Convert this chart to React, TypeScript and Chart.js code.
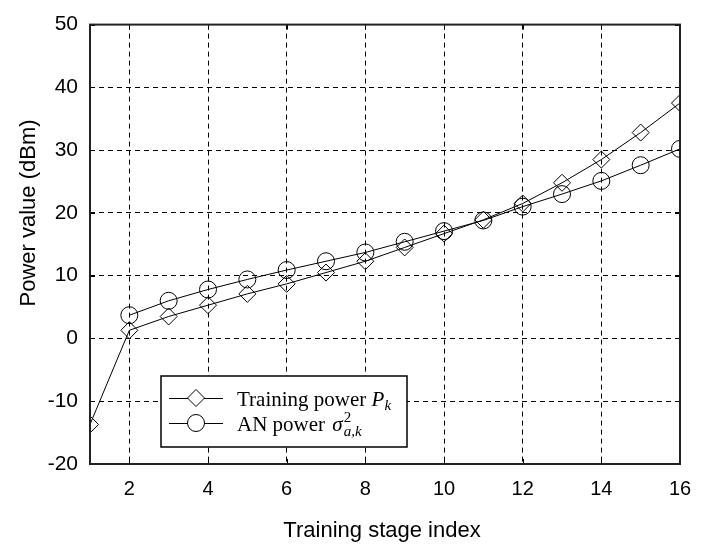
import React, { useEffect, useRef } from 'react';
import { Chart, registerables } from 'chart.js';

Chart.register(...registerables);

const stages = [1, 2, 3, 4, 5, 6, 7, 8, 9, 10, 11, 12, 13, 14, 15, 16];
const trainingPower = [-13.7, 1.3, 3.5, 5.3, 7.1, 8.7, 10.5, 12.3, 14.5, 16.7, 18.9, 21.5, 24.8, 28.5, 32.8, 37.5];
const anStages = [2, 3, 4, 5, 6, 7, 8, 9, 10, 11, 12, 13, 14, 15, 16];
const anPower = [3.7, 6.0, 7.8, 9.4, 10.9, 12.3, 13.7, 15.4, 17.1, 18.8, 21.0, 23.0, 25.1, 27.6, 30.2];
const xTickValues = [2, 4, 6, 8, 10, 12, 14, 16];
const yTickValues = [-20, -10, 0, 10, 20, 30, 40, 50];
const xTitle = 'Training stage index';
const yTitle = 'Power value (dBm)';

const SANS = '"Liberation Sans", Arial, sans-serif';
const SERIF = '"Liberation Serif", "Times New Roman", serif';

const framePlugin = {
  id: 'frameAndLegend',
  afterDraw(chart: any) {
    const { ctx, chartArea } = chart;
    const { left, right, top, bottom } = chartArea;
    const xs = chart.scales.x;
    const ys = chart.scales.y;
    ctx.save();
    ctx.setLineDash([]);
    // inward ticks
    ctx.strokeStyle = '#000';
    ctx.lineWidth = 1;
    ctx.beginPath();
    xTickValues.forEach((v) => {
      const px = Math.round(xs.getPixelForValue(v)) + 0.5;
      ctx.moveTo(px, bottom);
      ctx.lineTo(px, bottom - 5);
      ctx.moveTo(px, top);
      ctx.lineTo(px, top + 5);
    });
    yTickValues.forEach((v) => {
      const py = Math.round(ys.getPixelForValue(v)) + 0.5;
      ctx.moveTo(left, py);
      ctx.lineTo(left + 5, py);
      ctx.moveTo(right, py);
      ctx.lineTo(right - 5, py);
    });
    ctx.stroke();
    // frame
    ctx.lineWidth = 2;
    ctx.strokeStyle = '#222';
    ctx.strokeRect(left, top, right - left, bottom - top);

    // axis titles
    ctx.fillStyle = '#000';
    ctx.font = `22px ${SANS}`;
    ctx.textAlign = 'center';
    ctx.textBaseline = 'alphabetic';
    ctx.fillText(xTitle, 382, 537);
    ctx.save();
    ctx.translate(35, 213);
    ctx.rotate(-Math.PI / 2);
    ctx.fillText(yTitle, 0, 0);
    ctx.restore();

    // legend
    const bx = 161, by = 376, bw = 246, bh = 71;
    ctx.fillStyle = '#fff';
    ctx.fillRect(bx, by, bw, bh);
    ctx.lineWidth = 1.5;
    ctx.strokeStyle = '#000';
    ctx.strokeRect(bx, by, bw, bh);

    const rows = [398, 423];
    ctx.lineWidth = 1;
    rows.forEach((ry, i) => {
      ctx.beginPath();
      ctx.moveTo(169, ry + 0.5);
      ctx.lineTo(223, ry + 0.5);
      ctx.stroke();
      const cx = 196;
      const r = 8.5;
      ctx.fillStyle = '#fff';
      ctx.beginPath();
      if (i === 0) {
        ctx.moveTo(cx, ry - r);
        ctx.lineTo(cx + r, ry);
        ctx.lineTo(cx, ry + r);
        ctx.lineTo(cx - r, ry);
        ctx.closePath();
      } else {
        ctx.arc(cx, ry, r, 0, Math.PI * 2);
      }
      ctx.fill();
      ctx.stroke();
    });

    ctx.fillStyle = '#000';
    ctx.textBaseline = 'alphabetic';
    ctx.textAlign = 'left';
    // row 1
    let x = 237;
    let base = 406;
    ctx.font = `21px ${SERIF}`;
    ctx.fillText('Training power ', x, base);
    x += ctx.measureText('Training power ').width;
    ctx.font = `italic 21px ${SERIF}`;
    ctx.fillText('P', x, base);
    x += ctx.measureText('P').width;
    ctx.font = `italic 15px ${SERIF}`;
    ctx.fillText('k', x, base + 4);
    // row 2
    x = 237;
    base = 431;
    ctx.font = `21px ${SERIF}`;
    ctx.fillText('AN power ', x, base);
    x += ctx.measureText('AN power ').width + 2;
    ctx.font = `italic 21px ${SERIF}`;
    ctx.fillText('σ', x, base);
    x += ctx.measureText('σ').width + 1;
    ctx.font = `15px ${SERIF}`;
    ctx.fillText('2', x, base - 9);
    ctx.font = `italic 15px ${SERIF}`;
    ctx.fillText('a,k', x, base + 5);
    ctx.restore();
  },
};

export default function App() {
  const canvasRef = useRef<HTMLCanvasElement>(null);

  useEffect(() => {
    document.body.style.margin = '0';
    const canvas = canvasRef.current;
    if (!canvas) return;
    const chart = new Chart(canvas, {
      type: 'line',
      data: {
        datasets: [
          {
            label: 'Training power',
            data: stages.map((s, i) => ({ x: s, y: trainingPower[i] })),
            borderColor: '#000',
            borderWidth: 1,
            pointStyle: 'rectRot',
            pointRadius: 8.5,
            pointBorderColor: '#000',
            pointBackgroundColor: 'rgba(0,0,0,0)',
            pointBorderWidth: 1,
            tension: 0,
          },
          {
            label: 'AN power',
            data: anStages.map((s, i) => ({ x: s, y: anPower[i] })),
            borderColor: '#000',
            borderWidth: 1,
            pointStyle: 'circle',
            pointRadius: 8.5,
            pointBorderColor: '#000',
            pointBackgroundColor: 'rgba(0,0,0,0)',
            pointBorderWidth: 1,
            tension: 0,
          },
        ],
      },
      options: {
        animation: false,
        responsive: false,
        devicePixelRatio: 1,
        layout: { padding: { top: 13, right: 33, left: 0, bottom: 0 } },
        plugins: { legend: { display: false }, tooltip: { enabled: false } },
        scales: {
          x: {
            type: 'linear',
            min: 1,
            max: 16,
            afterBuildTicks: (axis: any) => {
              axis.ticks = xTickValues.map((v) => ({ value: v }));
            },
            afterFit: (scale: any) => {
              scale.height = 80;
            },
            grid: { color: '#000', lineWidth: 1, drawTicks: false },
            border: { display: false, dash: [5, 4] },
            ticks: {
              color: '#000',
              font: { family: SANS, size: 20 },
              padding: 13,
              maxRotation: 0,
              autoSkip: false,
            },
          },
          y: {
            type: 'linear',
            min: -20,
            max: 50,
            afterBuildTicks: (axis: any) => {
              axis.ticks = yTickValues.map((v) => ({ value: v }));
            },
            afterFit: (scale: any) => {
              scale.width = 90;
            },
            grid: { color: '#000', lineWidth: 1, drawTicks: false },
            border: { display: false, dash: [5, 4] },
            ticks: {
              color: '#000',
              font: { family: SANS, size: 21 },
              padding: 12,
              autoSkip: false,
            },
          },
        },
      },
      plugins: [framePlugin],
    });
    return () => chart.destroy();
  }, []);

  return (
    <div style={{ position: 'absolute', left: 0, top: 0, width: 713, height: 544, background: '#fff' }}>
      <canvas ref={canvasRef} width={713} height={544} />
    </div>
  );
}
